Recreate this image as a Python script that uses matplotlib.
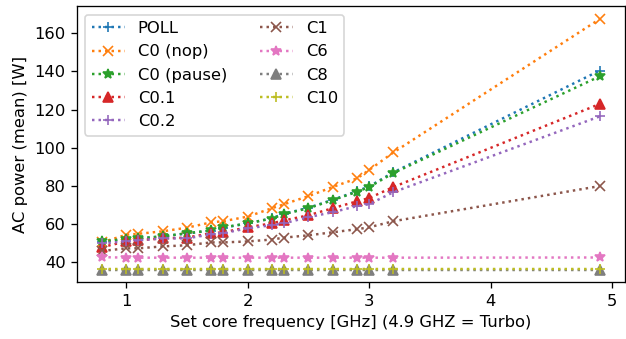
import matplotlib.pyplot as plt

freq = [0.8, 1.0, 1.1, 1.3, 1.5, 1.7, 1.8, 2.0, 2.2, 2.3, 2.5, 2.7, 2.9, 3.0, 3.2, 4.9]

poll = [50.8, 52.2, 52.6, 53.6, 55.2, 56.7, 58.2, 60.4, 63.2, 65.5, 68.6, 72.8, 77.3, 79.8, 87.2, 140.5]
c0_nop = [50.5, 54.5, 55.0, 56.3, 58.2, 61.0, 61.6, 64.0, 68.4, 70.5, 74.7, 79.5, 84.0, 88.4, 97.6, 167.5]
c0_pause = [51.0, 52.4, 52.6, 53.7, 55.3, 56.8, 58.4, 60.5, 63.0, 65.3, 68.4, 72.6, 77.0, 79.5, 86.8, 137.5]
c0_1 = [48.0, 51.0, 51.6, 52.6, 53.0, 55.3, 55.8, 58.4, 60.5, 62.0, 64.7, 68.4, 72.0, 73.7, 79.5, 123.0]
c0_2 = [50.0, 51.0, 51.6, 52.6, 52.6, 54.7, 55.3, 57.9, 59.5, 60.5, 63.7, 66.3, 69.5, 70.5, 76.8, 116.5]
c1 = [46.0, 47.4, 47.4, 48.4, 49.0, 50.5, 50.5, 51.0, 52.0, 53.0, 54.2, 55.8, 57.4, 58.4, 61.6, 80.0]
c6 = [42.8, 42.5, 42.5, 42.5, 42.5, 42.5, 42.5, 42.5, 42.5, 42.5, 42.5, 42.5, 42.5, 42.5, 42.5, 42.6]
c8 = [36.3, 36.3, 36.3, 36.3, 36.3, 36.3, 36.3, 36.3, 36.3, 36.3, 36.3, 36.3, 36.3, 36.3, 36.3, 36.3]
c10 = [36.8, 36.8, 36.8, 36.8, 36.8, 36.8, 36.8, 36.8, 36.8, 36.8, 36.8, 36.8, 36.8, 36.8, 36.8, 36.8]

series = [
    ("POLL", poll, "+"),
    ("C0 (nop)", c0_nop, "x"),
    ("C0 (pause)", c0_pause, "*"),
    ("C0.1", c0_1, "^"),
    ("C0.2", c0_2, "+"),
    ("C1", c1, "x"),
    ("C6", c6, "*"),
    ("C8", c8, "^"),
    ("C10", c10, "+"),
]

dpi = 118
fig, ax = plt.subplots(figsize=(626 / dpi, 339 / dpi), dpi=dpi)
fig.subplots_adjust(left=0.123, right=0.998, top=0.981, bottom=0.168)

for name, vals, m in series:
    ax.plot(freq, vals, linestyle=":", marker=m, label=name)

ax.set_xlabel("Set core frequency [GHz] (4.9 GHZ = Turbo)")
ax.set_ylabel("AC power (mean) [W]")
ax.legend(loc="upper left", ncol=2)

fig.savefig("out.png", dpi=dpi)
